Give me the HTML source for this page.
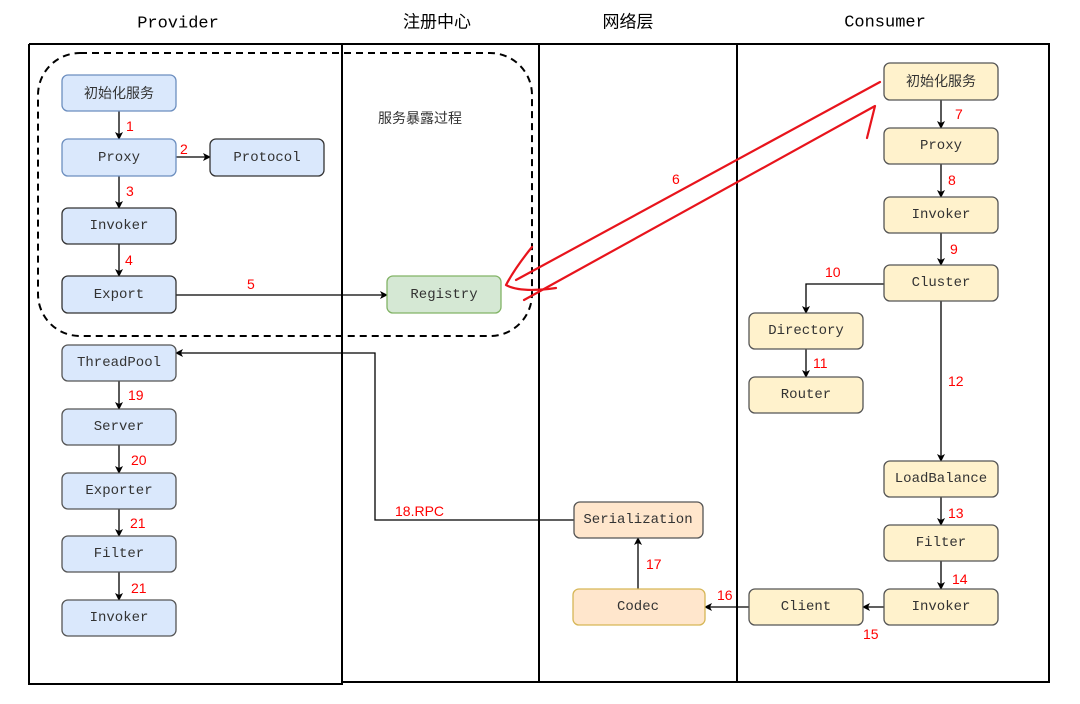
<!DOCTYPE html>
<html><head><meta charset="utf-8"><style>
html,body{margin:0;padding:0;background:#fff;width:1080px;height:704px;overflow:hidden}
svg{display:block}
.t{font-family:"Liberation Mono","Noto Sans CJK SC",monospace;font-size:14px;fill:#333;text-anchor:middle;dominant-baseline:central}
.c{font-family:"Liberation Sans","Noto Sans CJK SC",sans-serif;font-size:14px;fill:#333;text-anchor:middle;dominant-baseline:central}
.r{font-family:"Liberation Sans",sans-serif;font-size:14px;fill:#f00;dominant-baseline:central}
.h{font-family:"Liberation Mono","Noto Sans CJK SC",monospace;font-size:17px;fill:#000;text-anchor:middle;dominant-baseline:central}
</style></head><body>
<svg width="1080" height="704" viewBox="0 0 1080 704">
<defs><marker id="a" markerWidth="8" markerHeight="8" refX="7" refY="4" orient="auto" markerUnits="userSpaceOnUse"><path d="M0,0 L8,4 L0,8 L2,4z" fill="#000"/></marker></defs>
<text class="h" x="178" y="24">Provider</text>
<text class="h" x="437" y="24">注册中心</text>
<text class="h" x="628" y="24">网络层</text>
<text class="h" x="885" y="23">Consumer</text>
<g stroke="#000" stroke-width="2" fill="none">
<path d="M29,44 H1049 V682 H342"/>
<path d="M29,44 V684 H342 V44"/>
<path d="M539,44 V682 M737,44 V682"/>
</g>
<rect x="38" y="53" width="494" height="283" rx="42" fill="none" stroke="#000" stroke-width="2" stroke-dasharray="7,5"/>
<text class="c" x="420" y="118">服务暴露过程</text>
<g stroke="#000" stroke-width="1.3" fill="none" marker-end="url(#a)">
<path d="M119,111 V139"/><path d="M176,157 H210"/><path d="M119,176 V208"/><path d="M119,244 V276"/>
<path d="M176,295 H387"/>
<path d="M119,381 V409"/><path d="M119,445 V473"/><path d="M119,509 V536"/><path d="M119,572 V600"/>
<path d="M574,520 H375 V353 H176"/>
<path d="M941,100 V128"/><path d="M941,164 V197"/><path d="M941,233 V265"/>
<path d="M884,284 H806 V313"/><path d="M806,349 V377"/>
<path d="M941,301 V461"/><path d="M941,497 V525"/><path d="M941,561 V589"/>
<path d="M884,607 H863"/><path d="M749,607 H705"/><path d="M638,589 V538"/>
</g>
<g stroke-width="1.3">
<rect x="62" y="75" width="114" height="36" rx="6" fill="#dae8fc" stroke="#6c8ebf"/>
<rect x="62" y="139" width="114" height="37" rx="6" fill="#dae8fc" stroke="#6c8ebf"/>
<rect x="210" y="139" width="114" height="37" rx="6" fill="#dae8fc" stroke="#333"/>
<rect x="62" y="208" width="114" height="36" rx="6" fill="#dae8fc" stroke="#333"/>
<rect x="62" y="276" width="114" height="37" rx="6" fill="#dae8fc" stroke="#333"/>
<rect x="62" y="345" width="114" height="36" rx="6" fill="#dae8fc" stroke="#555"/>
<rect x="62" y="409" width="114" height="36" rx="6" fill="#dae8fc" stroke="#555"/>
<rect x="62" y="473" width="114" height="36" rx="6" fill="#dae8fc" stroke="#555"/>
<rect x="62" y="536" width="114" height="36" rx="6" fill="#dae8fc" stroke="#555"/>
<rect x="62" y="600" width="114" height="36" rx="6" fill="#dae8fc" stroke="#555"/>
<rect x="387" y="276" width="114" height="37" rx="6" fill="#d5e8d4" stroke="#82b366"/>
<rect x="884" y="63" width="114" height="37" rx="6" fill="#fff2cc" stroke="#555"/>
<rect x="884" y="128" width="114" height="36" rx="6" fill="#fff2cc" stroke="#555"/>
<rect x="884" y="197" width="114" height="36" rx="6" fill="#fff2cc" stroke="#555"/>
<rect x="884" y="265" width="114" height="36" rx="6" fill="#fff2cc" stroke="#555"/>
<rect x="749" y="313" width="114" height="36" rx="6" fill="#fff2cc" stroke="#555"/>
<rect x="749" y="377" width="114" height="36" rx="6" fill="#fff2cc" stroke="#555"/>
<rect x="884" y="461" width="114" height="36" rx="6" fill="#fff2cc" stroke="#555"/>
<rect x="884" y="525" width="114" height="36" rx="6" fill="#fff2cc" stroke="#555"/>
<rect x="884" y="589" width="114" height="36" rx="6" fill="#fff2cc" stroke="#555"/>
<rect x="749" y="589" width="114" height="36" rx="6" fill="#fff2cc" stroke="#555"/>
<rect x="574" y="502" width="129" height="36" rx="6" fill="#ffe6cc" stroke="#555"/>
<rect x="573" y="589" width="132" height="36" rx="6" fill="#ffe6cc" stroke="#d6b656"/>
</g>
<text class="c" x="119" y="93">初始化服务</text>
<text class="t" x="119" y="158">Proxy</text>
<text class="t" x="267" y="158">Protocol</text>
<text class="t" x="119" y="226">Invoker</text>
<text class="t" x="119" y="295">Export</text>
<text class="t" x="444" y="295">Registry</text>
<text class="t" x="119" y="363">ThreadPool</text>
<text class="t" x="119" y="427">Server</text>
<text class="t" x="119" y="491">Exporter</text>
<text class="t" x="119" y="554">Filter</text>
<text class="t" x="119" y="618">Invoker</text>
<text class="c" x="941" y="81">初始化服务</text>
<text class="t" x="941" y="146">Proxy</text>
<text class="t" x="941" y="215">Invoker</text>
<text class="t" x="941" y="283">Cluster</text>
<text class="t" x="806" y="331">Directory</text>
<text class="t" x="806" y="395">Router</text>
<text class="t" x="941" y="479">LoadBalance</text>
<text class="t" x="941" y="543">Filter</text>
<text class="t" x="941" y="607">Invoker</text>
<text class="t" x="806" y="607">Client</text>
<text class="t" x="638" y="520">Serialization</text>
<text class="t" x="638" y="607">Codec</text>
<g class="r">
<text x="126" y="126">1</text><text x="180" y="149">2</text><text x="126" y="191">3</text><text x="125" y="260">4</text>
<text x="247" y="284">5</text><text x="672" y="179">6</text><text x="955" y="114">7</text><text x="948" y="180">8</text>
<text x="950" y="249">9</text><text x="825" y="272">10</text><text x="813" y="363">11</text><text x="948" y="381">12</text>
<text x="948" y="513">13</text><text x="952" y="579">14</text><text x="863" y="634">15</text><text x="717" y="595">16</text>
<text x="646" y="564">17</text><text x="395" y="511">18.RPC</text>
<text x="128" y="395">19</text><text x="131" y="460">20</text><text x="130" y="523">21</text><text x="131" y="588">21</text>
</g>
<g stroke="#e8141c" stroke-width="2.2" fill="none" stroke-linecap="round" stroke-linejoin="round">
<path d="M880,82 L516,280"/>
<path d="M532,247 Q515,268 506,285 Q520,293 556,288"/>
<path d="M524,300 L875,106 L867,138"/>
</g>
</svg>
</body></html>
